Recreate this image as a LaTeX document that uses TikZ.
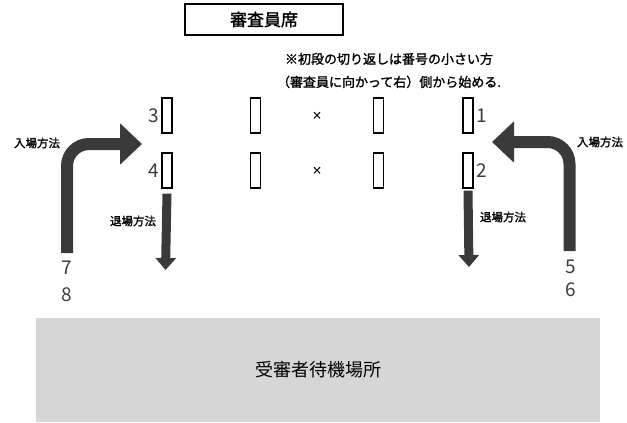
\documentclass[tikz,border=0pt]{standalone}
\usepackage{fontspec}
\setmainfont{Noto Sans CJK JP}
\newfontfamily\semibold{Noto Sans CJK JP}[FakeBold=1.5]
\usetikzlibrary{arrows.meta,positioning}
\definecolor{darkarrow}{HTML}{3A3A3A}
\definecolor{waitgray}{HTML}{D6D6D6}
\definecolor{numgray}{HTML}{3C3C3C}

\begin{document}
\begin{tikzpicture}[x=1pt,y=-1pt]
	\tikzset{
		seat/.style={draw, line width=1.3pt, minimum width=10pt, minimum height=35pt, inner sep=0pt},
		num/.style={text=numgray, font=\fontsize{19}{19}\selectfont, inner sep=1pt},
		way/.style={font=\semibold\fontsize{11.5}{12}\selectfont, inner sep=0pt},
		entry/.style={draw=darkarrow, line width=12pt, rounded corners=22pt, -{Triangle[length=22pt,width=40pt]}},
		leave/.style={draw=darkarrow, line width=9pt, -{Triangle[length=12pt,width=20pt]}},
	}
	\useasboundingbox (0,0) rectangle (627,423);

	% Judges' table and the note below it.
	\node[draw, line width=1.2pt, minimum width=158pt, minimum height=31pt,
		font=\semibold\fontsize{17}{17}\selectfont] (judges) at (264,19.5) {審査員席};
	\node[align=center, font=\semibold\fontsize{13}{23}\selectfont] (note) at (389,70.5)
		{※初段の切り返しは番号の小さい方\\（審査員に向かって右）側から始める.};

	% The seats: columns a to d, rows 1 and 2.
	\foreach \c/\x in {a/167, b/255.5, c/378.5, d/468}
		\foreach \r/\y in {1/115.5, 2/170.5}
			\node[seat] (\c\r) at (\x,\y) {};
	\node[num, left=1pt of a1] (n3) {3};
	\node[num, left=1pt of a2] (n4) {4};
	\node[num, right=2pt of d1] (n1) {1};
	\node[num, right=2pt of d2] (n2) {2};
	\node[font=\semibold\fontsize{10}{10}\selectfont] (x1) at (317,115.5) {×};
	\node[font=\semibold\fontsize{10}{10}\selectfont] (x2) at (317,170.5) {×};

	% Where the candidates come in and go out.
	\node[num] (n7) at (67,268) {7};
	\node[num] (n8) at (67,295) {8};
	\node[num] (n5) at (571,267) {5};
	\node[num] (n6) at (571,290) {6};
	\coordinate (inL) at (67,253);   % foot of left entry
	\coordinate (tipL) at (142,144);
	\coordinate (inR) at (569.5,251); % foot of right entry
	\coordinate (tipR) at (492,142);
	\coordinate (outL) at (165.5,270);
	\coordinate (outR) at (469,267);
	\draw[entry] (inL) |- (tipL);
	\draw[entry] (inR) |- (tipR);
	\draw[leave] ([yshift=-5pt]a2.south) -- (outL);
	\draw[leave] ([yshift=-2pt]d2.south) -- (outR);
	\node[way] (wayinL) at (37,143) {入場方法};
	\node[way] (wayinR) at (600,142) {入場方法};
	\node[way] (wayoutL) at (133,221) {退場方法};
	\node[way] (wayoutR) at (503,217) {退場方法};

	% Waiting area.
	\node[fill=waitgray, minimum width=564pt, minimum height=104pt,
		font=\fontsize{18}{18}\selectfont] (wait) at (318,370) {受審者待機場所};
\end{tikzpicture}
\end{document}
